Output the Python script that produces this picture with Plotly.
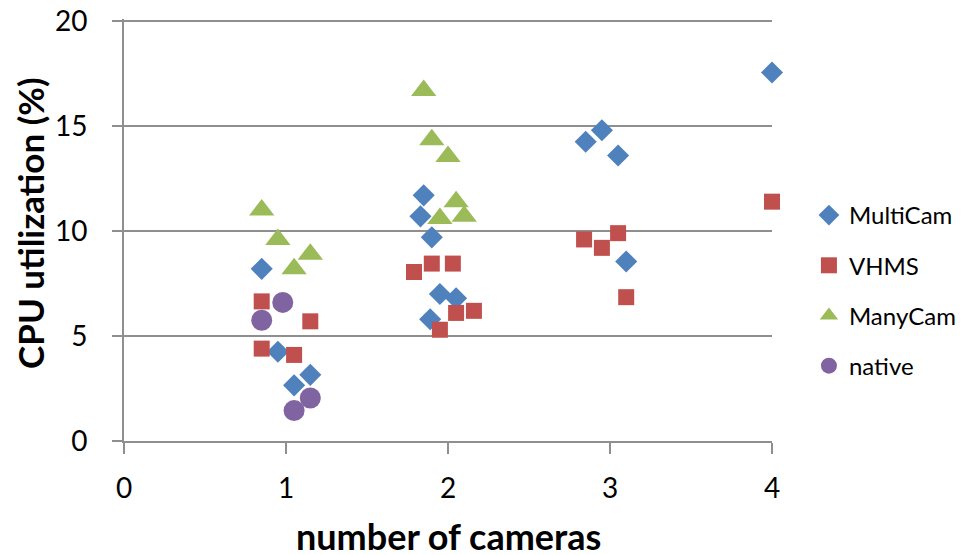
import plotly.graph_objects as go

# ---- data ----
multicam_x = [0.85, 0.95, 1.05, 1.15, 1.85, 1.83, 1.90, 1.95, 2.05, 1.89, 2.85, 2.95, 3.05, 3.10, 4.00]
multicam_y = [8.2, 4.25, 2.65, 3.15, 11.7, 10.7, 9.7, 7.0, 6.8, 5.8, 14.25, 14.8, 13.6, 8.55, 17.55]

vhms_x = [0.85, 0.85, 1.05, 1.15, 1.79, 1.90, 2.03, 2.05, 2.16, 1.95, 2.84, 2.95, 3.05, 3.10, 4.00]
vhms_y = [6.65, 4.4, 4.1, 5.7, 8.05, 8.45, 8.45, 6.1, 6.2, 5.3, 9.6, 9.2, 9.9, 6.85, 11.4]

manycam_x = [0.85, 0.95, 1.05, 1.15, 1.85, 1.90, 2.00, 2.05, 1.95, 2.10]
manycam_y = [11.0, 9.6, 8.2, 8.9, 16.7, 14.35, 13.55, 11.4, 10.6, 10.7]

native_x = [0.98, 0.85, 1.15, 1.05]
native_y = [6.6, 5.75, 2.05, 1.45]

x_ticks = [0, 1, 2, 3, 4]
y_ticks = [0, 5, 10, 15, 20]

x_title = "number of cameras"
y_title = "CPU utilization (%)"

FONT = "Lato"
GRID = "#8f8f8f"

series = [
    ("MultiCam", multicam_x, multicam_y, "diamond", "#4F81BD", 17),
    ("VHMS", vhms_x, vhms_y, "square", "#C0504D", 16),
    ("ManyCam", manycam_x, manycam_y, "triangle-up", "#9BBB59", 22),
    ("native", native_x, native_y, "circle", "#8064A2", 21),
]

fig = go.Figure()
for name, xs, ys, sym, col, sz in series:
    fig.add_trace(go.Scatter(
        x=xs, y=ys, mode="markers", name=name, legendgroup=name,
        cliponaxis=False,
        marker=dict(symbol=sym, color=col, size=sz, line=dict(width=0)),
    ))

# page body has an 8px default margin; the figure is sized to fill the rest
fig.update_layout(
    width=957, height=547,
    margin=dict(l=116, r=193, t=11, b=114, autoexpand=False),
    paper_bgcolor="white", plot_bgcolor="white",
    font=dict(family=FONT, color="#000000"),
    showlegend=True,
    legend=dict(
        xref="paper", yref="paper",
        x=1.057, y=0.5877, xanchor="left", yanchor="top",
        font=dict(family=FONT, size=24, color="#000000"),
        tracegroupgap=16, bgcolor="rgba(0,0,0,0)",
        itemsizing="trace",
    ),
    annotations=[
        dict(text="<b>" + x_title + "</b>", xref="paper", yref="paper",
             x=0.5, y=-0.2255, xanchor="center", yanchor="middle", showarrow=False,
             font=dict(family=FONT, size=36, color="#000000")),
        dict(text="<b>" + y_title + "</b>", xref="paper", yref="paper",
             x=-0.144, y=0.516, xanchor="center", yanchor="middle", showarrow=False,
             textangle=-90, font=dict(family=FONT, size=35, color="#000000")),
    ],
)

fig.update_xaxes(
    range=[0, 4], tickvals=x_ticks, ticktext=[str(v) for v in x_ticks],
    showgrid=False, zeroline=False, automargin=False,
    showline=True, linecolor=GRID, linewidth=2,
    ticks="outside", ticklen=11, tickwidth=2, tickcolor=GRID,
    tickfont=dict(family=FONT, size=28, color="#000000"),
    ticklabelstandoff=10, ticklabeloverflow="allow",
)
fig.update_yaxes(
    range=[0, 20.1], tickvals=y_ticks, ticktext=[str(v) for v in y_ticks],
    showgrid=True, gridcolor=GRID, gridwidth=2, zeroline=False, automargin=False,
    showline=True, linecolor=GRID, linewidth=2,
    ticks="outside", ticklen=10, tickwidth=2, tickcolor=GRID,
    tickfont=dict(family=FONT, size=28, color="#000000"),
    ticklabelstandoff=19, ticklabeloverflow="allow",
)

fig.write_html("out.html")
